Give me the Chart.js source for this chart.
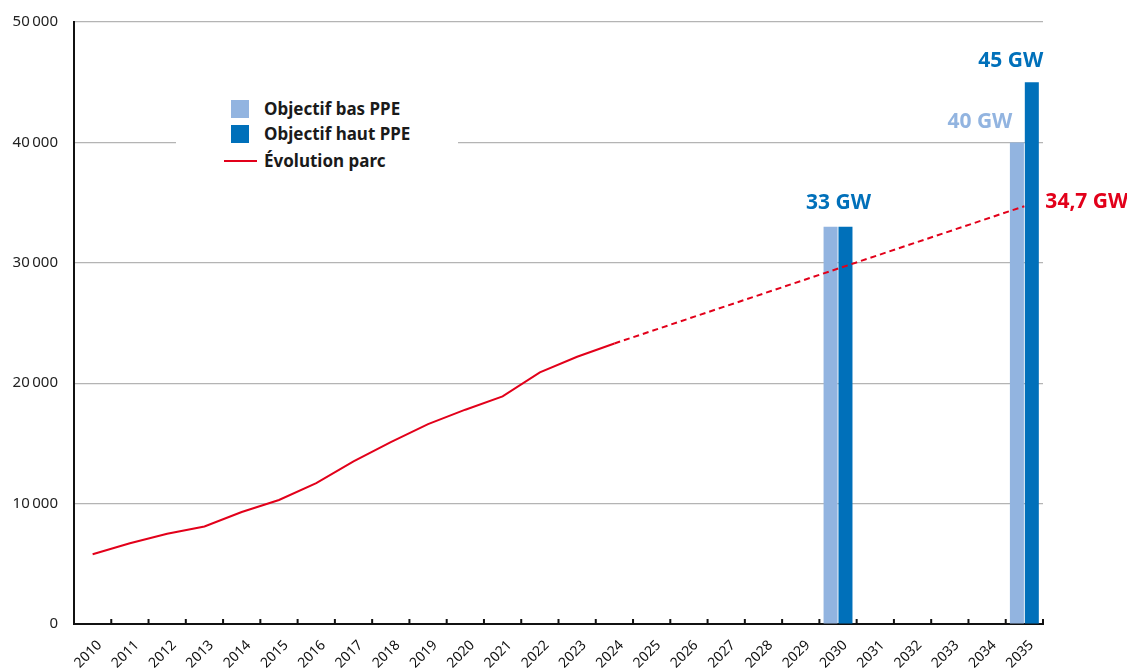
<!DOCTYPE html>
<html>
<head>
<meta charset="utf-8">
<script src="https://cdn.jsdelivr.net/npm/chart.js@4.4.1/dist/chart.umd.min.js"></script>
<style>
  body { margin: 0; background: #fff; }
  #wrap { position: relative; width: 1127px; height: 671px; }
  #legend {
    position: absolute; left: 176px; top: 88px; width: 282px; height: 90px;
    background: #fff; font-family: "Noto Sans", sans-serif; font-weight: bold;
    font-size: 17px; color: #1a1a1a;
  }
  .item { position: absolute; left: 48px; height: 20px; line-height: 20px; }
  .item span { position: absolute; left: 40px; white-space: nowrap; }
  .box { position: absolute; left: 7px; top: 1px; width: 18px; height: 18px; }
  .dash { position: absolute; left: 0px; top: 9px; width: 33px; height: 2px; background: #e2001a; }
</style>
</head>
<body>
<div id="wrap">
  <canvas id="myChart" width="1127" height="671"></canvas>
  <div id="legend">
    <div class="item" style="top:11px"><div class="box" style="background:#92b4e0"></div><span>Objectif bas PPE</span></div>
    <div class="item" style="top:36px"><div class="box" style="background:#0070ba"></div><span>Objectif haut PPE</span></div>
    <div class="item" style="top:63px"><div class="dash"></div><span>Évolution parc</span></div>
  </div>
</div>
<script>
var ctx = document.querySelector('#myChart');

const years = ['2010','2011','2012','2013','2014','2015','2016','2017','2018','2019','2020','2021','2022',
  '2023','2024','2025','2026','2027','2028','2029','2030','2031','2032','2033','2034','2035'];
const parcValues = [5800, 6700, 7500, 8100, 9300, 10300, 11700, 13500, 15100, 16600, 17800, 18900, 20900,
  22200, 23300, null, null, null, null, null, null, null, null, null, null, null];
const projectionValues = [null, null, null, null, null, null, null, null, null, null, null, null, null,
  null, 23300, null, null, null, null, null, null, null, null, null, null, 34700];
const objectifBas = [null, null, null, null, null, null, null, null, null, null, null, null, null,
  null, null, null, null, null, null, null, 33000, null, null, null, null, 40000];
const objectifHaut = [null, null, null, null, null, null, null, null, null, null, null, null, null,
  null, null, null, null, null, null, null, 33000, null, null, null, null, 45000];
const yTicks = [0, 10000, 20000, 30000, 40000, 50000];

const COLOR_BAS = '#92b4e0';
const COLOR_HAUT = '#0070ba';
const COLOR_PARC = '#e2001a';
const FONT = '"Noto Sans", sans-serif';

// labels: dataset, index, text, colour, offsets
const valueLabels = [
  { ds: 1, i: 20, text: '33 GW', color: COLOR_HAUT, dx: -7, dy: -24, align: 'center' },
  { ds: 0, i: 25, text: '40 GW', color: COLOR_BAS, dx: -37, dy: -20, align: 'center' },
  { ds: 1, i: 25, text: '45 GW', color: COLOR_HAUT, dx: -21, dy: -21, align: 'center' },
  { ds: 3, i: 25, text: '34,7 GW', color: COLOR_PARC, dx: 21, dy: -4, align: 'left' }
];

function formatThousands(v){
  return String(v).replace(/\B(?=(\d{3})+(?!\d))/g, '\u202f');
}

const labelsPlugin = {
  id: 'valueLabels',
  afterDatasetsDraw(chart) {
    const c = chart.ctx;
    c.save();
    c.font = 'bold 21px ' + FONT;
    c.textBaseline = 'middle';
    valueLabels.forEach(l => {
      const el = chart.getDatasetMeta(l.ds).data[l.i];
      c.fillStyle = l.color;
      c.textAlign = l.align;
      c.fillText(l.text, el.x + l.dx, el.y + l.dy);
    });
    c.restore();
  }
};

// small category ticks pointing up from the x axis
const tickPlugin = {
  id: 'innerTicks',
  afterDraw(chart) {
    const x = chart.scales.x;
    const c = chart.ctx;
    const step = x.getPixelForValue(1) - x.getPixelForValue(0);
    c.save();
    c.strokeStyle = '#111';
    c.lineWidth = 2;
    c.beginPath();
    for (let i = 0; i <= years.length; i++) {
      const px = x.getPixelForValue(0) - step / 2 + i * step;
      c.moveTo(px, x.top - 5);
      c.lineTo(px, x.top);
    }
    c.stroke();
    c.restore();
  }
};

new Chart(ctx, {
  type: 'bar',
  data: {
    labels: years,
    datasets: [
      {
        label: 'Objectif bas PPE',
        data: objectifBas,
        backgroundColor: COLOR_BAS,
        categoryPercentage: 0.8,
        barPercentage: 0.94,
        order: 2
      },
      {
        label: 'Objectif haut PPE',
        data: objectifHaut,
        backgroundColor: COLOR_HAUT,
        categoryPercentage: 0.8,
        barPercentage: 0.94,
        order: 2
      },
      {
        type: 'line',
        label: 'Évolution parc',
        data: parcValues,
        borderColor: COLOR_PARC,
        borderWidth: 2,
        pointRadius: 0,
        tension: 0,
        order: 1
      },
      {
        type: 'line',
        label: 'Projection',
        data: projectionValues,
        borderColor: COLOR_PARC,
        borderWidth: 2,
        borderDash: [6, 4],
        pointRadius: 0,
        spanGaps: true,
        order: 1
      }
    ]
  },
  options: {
    responsive: false,
    animation: false,
    layout: { padding: { top: 22, right: 84, left: 0, bottom: 0 } },
    plugins: {
      legend: { display: false },
      tooltip: { enabled: false }
    },
    scales: {
      x: {
        grid: { display: false, drawOnChartArea: false },
        border: { display: true, color: '#111', width: 2 },
        ticks: {
          minRotation: 45, maxRotation: 45, autoSkip: false, labelOffset: 7,
          color: '#111', font: { family: FONT, size: 14 }, padding: 5
        },
        afterFit(scale) { scale.height = 47; }
      },
      y: {
        min: 0, max: 50000,
        afterBuildTicks(scale) { scale.ticks = yTicks.map(v => ({ value: v })); },
        grid: { color: '#b4b4b4', lineWidth: 1.2, drawTicks: true, tickLength: 12, tickColor: 'rgba(0,0,0,0)' },
        border: { display: true, color: '#111', width: 2 },
        ticks: {
          color: '#222', font: { family: FONT, size: 15 }, padding: 4,
          callback: v => formatThousands(v)
        },
        afterFit(scale) { scale.width = 74; }
      }
    }
  },
  plugins: [labelsPlugin, tickPlugin]
});
</script>
</body>
</html>
